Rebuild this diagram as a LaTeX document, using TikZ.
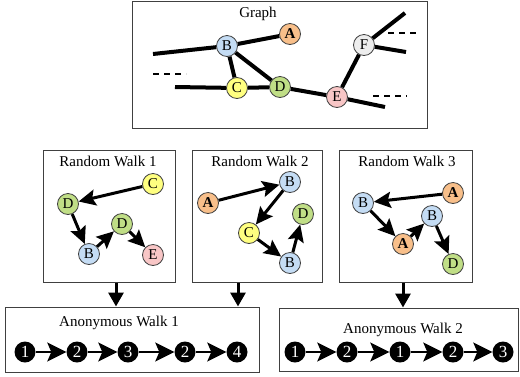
\documentclass[tikz,border=0pt]{standalone}
\usepackage{fontspec}
\setmainfont{Liberation Serif}
\usetikzlibrary{arrows.meta}
\definecolor{cA}{HTML}{F8BF8A}
\definecolor{cB}{HTML}{C4DCF4}
\definecolor{cC}{HTML}{FFFF80}
\definecolor{cD}{HTML}{C0DE86}
\definecolor{cE}{HTML}{F8C6C6}
\definecolor{cF}{HTML}{EDEDED}
\begin{document}
\begin{tikzpicture}[x=1pt,y=-1pt,
 gn/.style={circle,draw=black!75,line width=0.8pt,minimum size=21pt,inner sep=0pt,font=\fontsize{15}{15}\selectfont},
 nA/.style={gn,fill=cA,font=\fontsize{15}{15}\selectfont\bfseries},
 nB/.style={gn,fill=cB},
 nC/.style={gn,fill=cC},
 nD/.style={gn,fill=cD},
 nE/.style={gn,fill=cE},
 nF/.style={gn,fill=cF},
 box/.style={draw=black!75,line width=1pt,inner sep=0pt},
 ttl/.style={font=\fontsize{15}{15}\selectfont},
 edge/.style={line width=4pt},
 dsh/.style={line width=2pt,dash pattern=on 6pt off 5pt},
 warr/.style={line width=3pt,-{Stealth[length=17pt,width=16pt,inset=3pt]}},
 an/.style={circle,fill=black,text=white,minimum size=21pt,inner sep=0pt,font=\fontsize{17}{17}\selectfont},
 aarr/.style={line width=2.2pt,-{Stealth[length=19pt,width=19pt,inset=4pt]}},
 darr/.style={line width=3pt,-{Triangle[length=14pt,width=15pt]}}]
\useasboundingbox (0,0) rectangle (520,376);
% boxes
\node[box,minimum width=295pt,minimum height=127pt] (g) at (279.5,64.5) {};
\node[box,minimum width=132pt,minimum height=132pt] (rw1) at (109,216) {};
\node[box,minimum width=130pt,minimum height=132pt] (rw2) at (257,216) {};
\node[box,minimum width=133pt,minimum height=132pt] (rw3) at (405.5,216) {};
\node[box,minimum width=254pt,minimum height=65pt] (aw1) at (132,339.5) {};
\node[box,minimum width=239pt,minimum height=63pt] (aw2) at (398.5,339.5) {};
% titles
\node[ttl] (tg) at (258,14) {Graph};
\node[ttl] (t1) at (108,161) {Random Walk 1};
\node[ttl] (t2) at (260,161) {Random Walk 2};
\node[ttl] (t3) at (407,161) {Random Walk 3};
\node[ttl] (ta1) at (119,323) {Anonymous Walk 1};
\node[ttl] (ta2) at (403,330) {Anonymous Walk 2};
% graph
\node[nB] (B) at (227,46) {B};
\node[nA] (A) at (290,34) {A};
\node[nC] (C) at (237,88) {C};
\node[nD] (D) at (280,87) {D};
\node[nE] (E) at (337,97) {E};
\node[nF] (F) at (364,45) {F};
\coordinate (l1) at (153,54);
\coordinate (l2) at (175,87);
\coordinate (r1) at (385,107);
\coordinate (r2) at (405,13);
\coordinate (r3) at (406,52);
\draw[edge] (l1) -- (B);
\draw[edge] (B) -- (A);
\draw[edge] (B) -- (C);
\draw[edge] (B) -- (D);
\draw[edge] (l2) -- (C);
\draw[edge] (C) -- (D);
\draw[edge] (D) -- (E);
\draw[edge] (E) -- (F);
\draw[edge] (E) -- (r1);
\draw[edge] (F) -- (r2);
\draw[edge] (F) -- (r3);
\coordinate (d1a) at (153,74); \coordinate (d1b) at (186,74);
\coordinate (d2a) at (388,33); \coordinate (d2b) at (416,33);
\coordinate (d3a) at (373,96); \coordinate (d3b) at (407,96);
\draw[dsh] (d1a) -- (d1b);
\draw[dsh] (d2a) -- (d2b);
\draw[dsh] (d3a) -- (d3b);
% random walk 1
\node[nC] (w1c) at (153,184) {C};
\node[nD] (w1d) at (68,204) {D};
\node[nB] (w1b) at (89,254) {B};
\node[nD] (w1d2) at (122,224) {D};
\node[nE] (w1e) at (153,255) {E};
\draw[warr] (w1c) -- (w1d);
\draw[warr] (w1d) -- (w1b);
\draw[warr] (w1b) -- (w1d2);
\draw[warr] (w1d2) -- (w1e);
% random walk 2
\node[nA] (w2a) at (208,203) {A};
\node[nB] (w2b) at (290,182) {B};
\node[nC] (w2c) at (249,233) {C};
\node[nD] (w2d) at (303,214) {D};
\node[nB] (w2b2) at (290,263) {B};
\draw[warr] (w2a) -- (w2b);
\draw[warr] (w2b) -- (w2c);
\draw[warr] (w2c) -- (w2b2);
\draw[warr] (w2b2) -- (w2d);
% random walk 3
\node[nA] (w3a) at (453,193) {A};
\node[nB] (w3b) at (363,203) {B};
\node[nA] (w3a2) at (403,244) {A};
\node[nB] (w3b2) at (432,216) {B};
\node[nD] (w3d) at (453,264) {D};
\draw[warr] (w3a) -- (w3b);
\draw[warr] (w3b) -- (w3a2);
\draw[warr] (w3a2) -- (w3b2);
\draw[warr] (w3b2) -- (w3d);
% anonymous walk 1
\node[an] (a1) at (25,352) {1};
\node[an] (a2) at (77,352) {2};
\node[an] (a3) at (128,352) {3};
\node[an] (a4) at (185,352) {2};
\node[an] (a5) at (237,352) {4};
\draw[aarr] (a1) -- (a2);
\draw[aarr] (a2) -- (a3);
\draw[aarr] (a3) -- (a4);
\draw[aarr] (a4) -- (a5);
% anonymous walk 2
\node[an] (b1) at (295,352) {1};
\node[an] (b2) at (347,352) {2};
\node[an] (b3) at (400,352) {1};
\node[an] (b4) at (453,352) {2};
\node[an] (b5) at (503,352) {3};
\draw[aarr] (b1) -- (b2);
\draw[aarr] (b2) -- (b3);
\draw[aarr] (b3) -- (b4);
\draw[aarr] (b4) -- (b5);
% box arrows
\draw[darr] ([xshift=7pt]rw1.south) -- ([xshift=7pt]rw1.south |- aw1.north);
\draw[darr] ([xshift=-19pt]rw2.south) -- ([xshift=-19pt]rw2.south |- aw1.north);
\draw[darr] ([xshift=-2.5pt]rw3.south) -- ([xshift=-2.5pt]rw3.south |- aw2.north);
\end{tikzpicture}
\end{document}
